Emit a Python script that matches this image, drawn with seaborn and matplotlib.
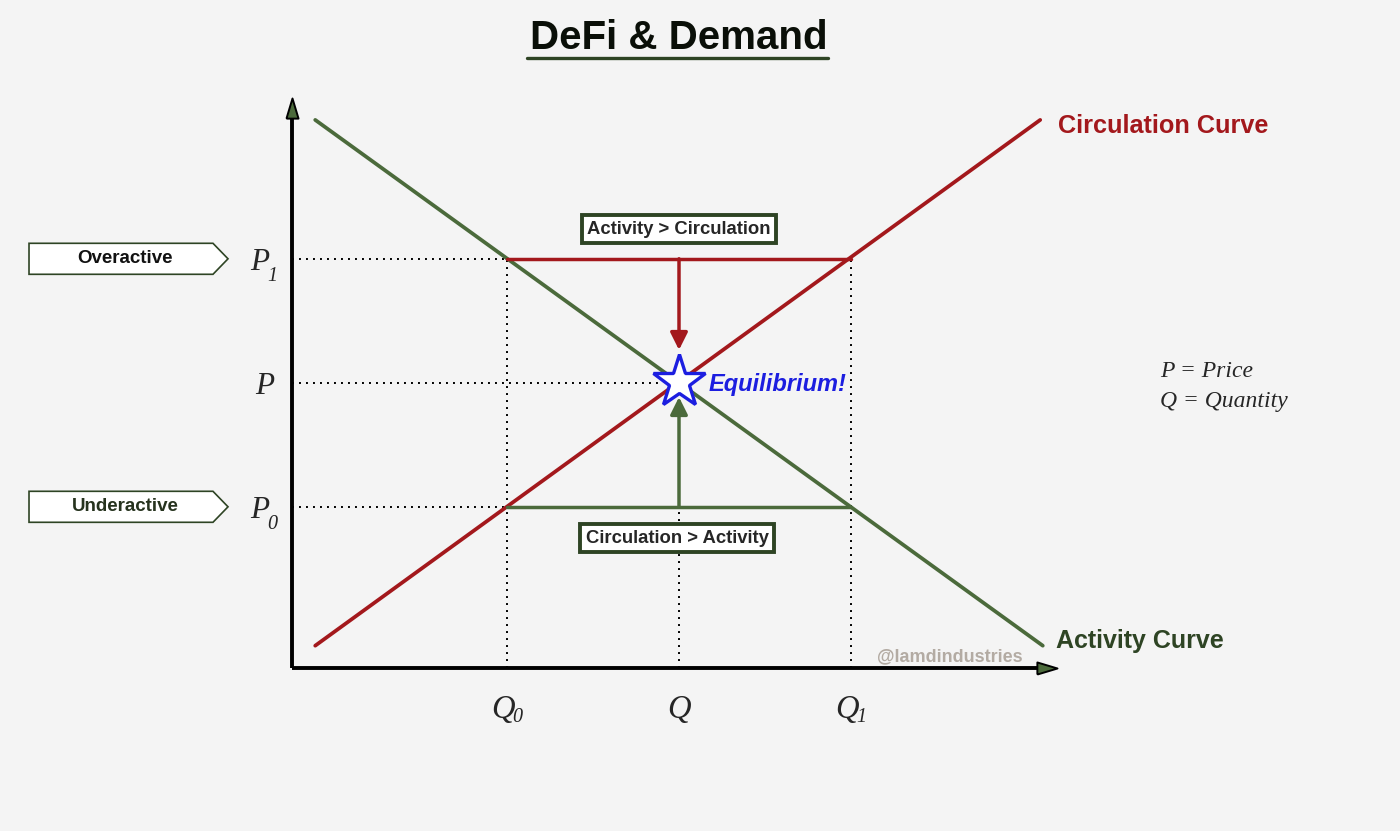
import numpy as np
import pandas as pd
import matplotlib
matplotlib.use("Agg")
import matplotlib.pyplot as plt
from matplotlib.patches import Polygon, FancyArrowPatch
import seaborn as sns

# levels (quantity units / price units)
q_levels = [2.5, 4.5, 6.5]      # Q0, Q, Q1
p_levels = [1.3, 2.3, 3.3]      # P0, P, P1
q_subs = ['0', '', '1']
p_subs = ['0', '', '1']

# curve end points
circ_q = [0.27, 8.70]
circ_p = [0.18, 4.42]
act_q = [0.27, 8.73]
act_p = [4.42, 0.18]

axis_q_max = 8.9
axis_p_max = 4.6

RED = '#a3181c'
GREEN = '#4b6a3b'
DKGREEN = '#2e4424'
BLUE = '#1c1ee0'
BG = '#f4f4f4'
SERIF = ['Liberation Serif', 'DejaVu Serif']

sns.set_theme(style='white', rc={'figure.facecolor': BG, 'axes.facecolor': BG})
plt.rcParams['font.family'] = ['Liberation Sans', 'DejaVu Sans']

fig = plt.figure(figsize=(14, 8.31), dpi=100)
ax = fig.add_axes([0, 0, 1, 1])
# 86 px per quantity unit, 124 px per price unit, origin at (292, 668)
UQ, UP = 86, 124
ax.set_xlim(-292 / UQ, (1400 - 292) / UQ)
ax.set_ylim((668 - 831) / UP, 668 / UP)
ax.set_axis_off()

q0, q, q1 = q_levels
p0, p, p1 = p_levels

# dotted guides
dot = dict(color='black', lw=1.4, ls=(0, (1, 2.6)), zorder=1)
ax.plot([0, q0], [p1, p1], **dot)
ax.plot([0, q - 0.2], [p, p], **dot)
ax.plot([0, q0], [p0, p0], **dot)
ax.plot([q0, q0], [0, p1], **dot)
ax.plot([q1, q1], [0, p1], **dot)
ax.plot([q, q], [0, p0], **dot)

# curves
curves = pd.DataFrame({
    'Q': circ_q + act_q,
    'P': circ_p + act_p,
    'curve': ['Circulation'] * 2 + ['Activity'] * 2,
})
sns.lineplot(data=curves, x='Q', y='P', hue='curve', sort=False,
             palette={'Circulation': RED, 'Activity': GREEN},
             lw=2.7, legend=False, ax=ax, zorder=3)

# gaps
ax.plot([q0, q1], [p1, p1], color=RED, lw=2.5, zorder=3)
ax.plot([q0, q1], [p0, p0], color=GREEN, lw=2.5, zorder=3)
ax.add_patch(FancyArrowPatch((q, p1), (q, 2.565), arrowstyle='-|>', mutation_scale=26,
                             color=RED, lw=2.5, shrinkA=0, shrinkB=0, zorder=4))
ax.add_patch(FancyArrowPatch((q, p0), (q, 2.185), arrowstyle='-|>', mutation_scale=26,
                             color=GREEN, lw=2.5, shrinkA=0, shrinkB=0, zorder=4))

# axes with arrow heads
ax.plot([0, 0], [0, axis_p_max - 0.1], color='black', lw=2.8, zorder=5,
        solid_capstyle='butt')
ax.plot([0, axis_q_max - 0.15], [0, 0], color='black', lw=2.8, zorder=5,
        solid_capstyle='butt')
up_head = [(-0.6, -2), (0.6, -2), (0, 0), (-0.6, -2)]
right_head = [(-2, -0.6), (-2, 0.6), (0, 0), (-2, -0.6)]
ax.plot([0], [axis_p_max], marker=up_head, ms=29, mfc=GREEN, mec='black', mew=1.4,
        zorder=6)
ax.plot([axis_q_max], [0], marker=right_head, ms=29, mfc=GREEN, mec='black', mew=1.4,
        zorder=6)

# equilibrium star
ax.plot([q], [p + 0.01], marker='*', ms=40, mfc='white', mec=BLUE, mew=2.4, zorder=6)
ax.text(4.84, 2.29, 'Equilibrium!', color=BLUE, fontsize=17, fontweight='bold',
        fontstyle='italic', ha='left', va='center', zorder=6)

# tick labels: italic serif with lowered subscripts
for lv, sub in zip(p_levels, p_subs):
    x_main = -0.488 if sub else -0.43
    ax.text(x_main, lv - 11 / UP, 'P', fontsize=22.5, family=SERIF, style='italic',
            ha='left', va='baseline')
    if sub:
        ax.text(-0.285, lv - 8 / UP, sub, fontsize=14.5, family=SERIF, style='italic',
                ha='left', va='top')
for lv, sub in zip(q_levels, q_subs):
    ax.text(lv - (16 / UQ if sub else 0), -50 / UP, 'Q',
            fontsize=23.5, family=SERIF, style='italic',
            ha='left' if sub else 'center', va='baseline')
    if sub:
        ax.text(lv + 5 / UQ, -40 / UP, sub, fontsize=14.5, family=SERIF, style='italic',
                ha='left', va='top')

# side tags
def tag(y, label, tcolor):
    xl, xr, xt, h = -3.058, -0.919, -0.744, 0.125
    ax.add_patch(Polygon([[xl, y - h], [xr, y - h], [xt, y], [xr, y + h], [xl, y + h]],
                         closed=True, fc='white', ec=DKGREEN, lw=1.2, zorder=4))
    ax.text(-1.94, y, label, fontsize=13.5, fontweight='bold', color=tcolor,
            ha='center', va='center', zorder=5)

tag(p1, 'Overactive', '#111111')
tag(p0, 'Underactive', '#26331e')

box = dict(boxstyle='square,pad=0.3', fc='white', ec=DKGREEN, lw=2.8)
ax.text(4.5, 3.54, 'Activity > Circulation', fontsize=13.3, fontweight='bold',
        ha='center', va='center', bbox=box, zorder=5)
ax.text(4.48, 1.048, 'Circulation > Activity', fontsize=13.3, fontweight='bold',
        ha='center', va='center', bbox=box, zorder=5)

# curve names
ax.text(8.91, 4.37, 'Circulation Curve', color=RED, fontsize=18.2, fontweight='bold',
        ha='left', va='center')
ax.text(8.88, 0.218, 'Activity Curve', color=DKGREEN, fontsize=18, fontweight='bold',
        ha='left', va='center')
ax.text(6.80, 0.089, '@lamdindustries', color='#b3aba3', fontsize=13, fontweight='bold',
        ha='left', va='center')

# key
ax.text(10.09, 2.395, 'P = Price', fontsize=17, family=SERIF, style='italic',
        ha='left', va='center')
ax.text(10.09, 2.153, 'Q = Quantity', fontsize=17, family=SERIF, style='italic',
        ha='left', va='center')

# title
ax.text(4.5, 5.08, 'DeFi & Demand', fontsize=29, fontweight='bold', ha='center',
        va='center', color='#0a0f08')
ax.plot([2.733, 6.233], [4.919, 4.919], color=DKGREEN, lw=2.4)

fig.savefig('out.png', dpi=100, facecolor=BG)
